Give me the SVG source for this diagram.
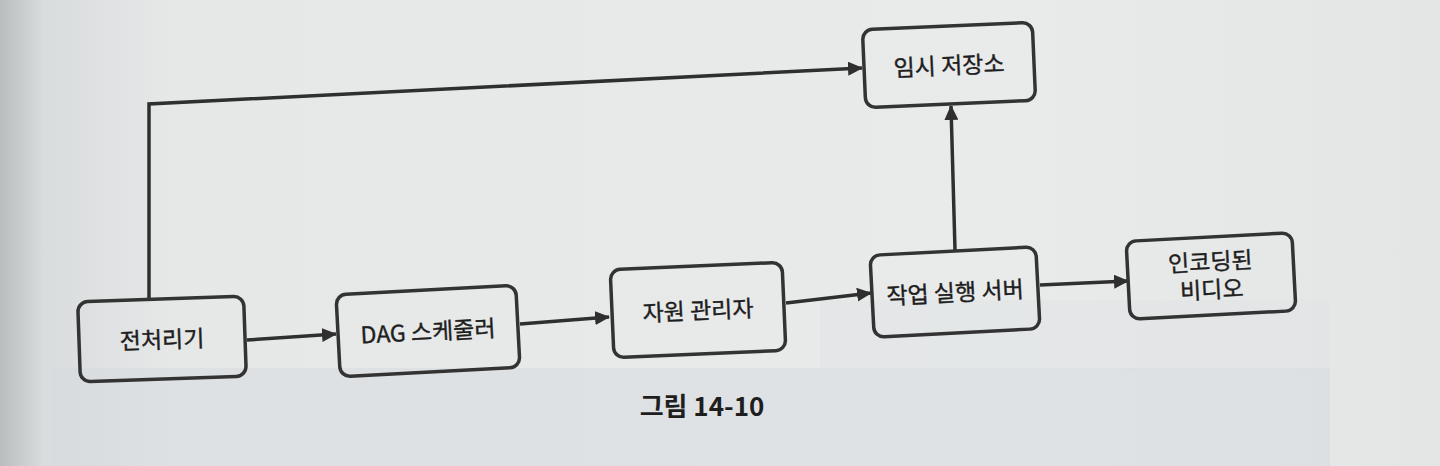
<svg xmlns="http://www.w3.org/2000/svg" width="1440" height="466" viewBox="0 0 1440 466">
<defs>
<linearGradient id="paper" x1="0" y1="0" x2="1" y2="0">
<stop offset="0" stop-color="#b9bdbe"/>
<stop offset="0.03" stop-color="#d9dcdd"/>
<stop offset="0.12" stop-color="#e6e8e8"/>
<stop offset="0.7" stop-color="#e9ebeb"/>
<stop offset="1" stop-color="#e4e6e6"/>
</linearGradient>
<marker id="ah" markerUnits="userSpaceOnUse" markerWidth="16" markerHeight="14" refX="14" refY="7" orient="auto">
<path d="M0,0 L15,7 L0,14 Z" fill="#2f2f2f"/>
</marker>
<style>
.box{fill:none;stroke:#333;stroke-width:3.5}
.lbl{font-family:"Noto Sans CJK KR","Noto Sans",sans-serif;font-size:23px;fill:#1e1e1e;stroke:#1e1e1e;stroke-width:0.4;text-anchor:middle}
.cap{font-family:"Noto Sans CJK KR","Noto Sans",sans-serif;font-size:26px;font-weight:bold;fill:#1e1e1e;text-anchor:middle}
.edge{fill:none;stroke:#2f2f2f;stroke-width:3.5;marker-end:url(#ah)}
</style>
</defs>
<rect width="1440" height="466" fill="url(#paper)"/>
<rect x="52" y="368" width="1278" height="98" fill="#d6dadd" opacity="0.5"/>
<rect x="820" y="300" width="510" height="70" fill="#dde0e2" opacity="0.35"/>
<g id="connectors">
<polyline class="edge" points="149,298 149,104 862,68" stroke-width="3"/>
<line class="edge" x1="247" y1="340" x2="336" y2="334"/>
<line class="edge" x1="520" y1="324" x2="609" y2="317"/>
<line class="edge" x1="786" y1="303" x2="871" y2="293"/>
<line class="edge" x1="1040" y1="285" x2="1128" y2="281"/>
<line class="edge" x1="955" y1="250" x2="951" y2="106" stroke-width="2.5"/>
</g>
<g id="n1" transform="translate(162,339) rotate(-2)">
<rect class="box" x="-83" y="-40" width="166" height="80" rx="10"/>
<text class="lbl" x="0" y="9">전처리기</text>
</g>
<g id="n2" transform="translate(428,331) rotate(-3)">
<rect class="box" x="-90" y="-41" width="180" height="82" rx="10"/>
<text class="lbl" x="0" y="9">DAG 스케줄러</text>
</g>
<g id="n3" transform="translate(698,310) rotate(-2.5)">
<rect class="box" x="-86" y="-44" width="172" height="88" rx="10"/>
<text class="lbl" x="0" y="9">자원 관리자</text>
</g>
<g id="n4" transform="translate(955,292) rotate(-3)">
<rect class="box" x="-83" y="-41" width="166" height="82" rx="10"/>
<text class="lbl" x="0" y="9">작업 실행 서버</text>
</g>
<g id="n5" transform="translate(1211,276) rotate(-3)">
<rect class="box" x="-83" y="-39" width="166" height="78" rx="10"/>
<text class="lbl" x="0" y="-6">인코딩된</text>
<text class="lbl" x="0" y="22">비디오</text>
</g>
<g id="n6" transform="translate(949,65) rotate(-2.5)">
<rect class="box" x="-85" y="-39" width="170" height="78" rx="10"/>
<text class="lbl" x="0" y="9">임시 저장소</text>
</g>
<text class="cap" x="702" y="416">그림 14-10</text>
</svg>
